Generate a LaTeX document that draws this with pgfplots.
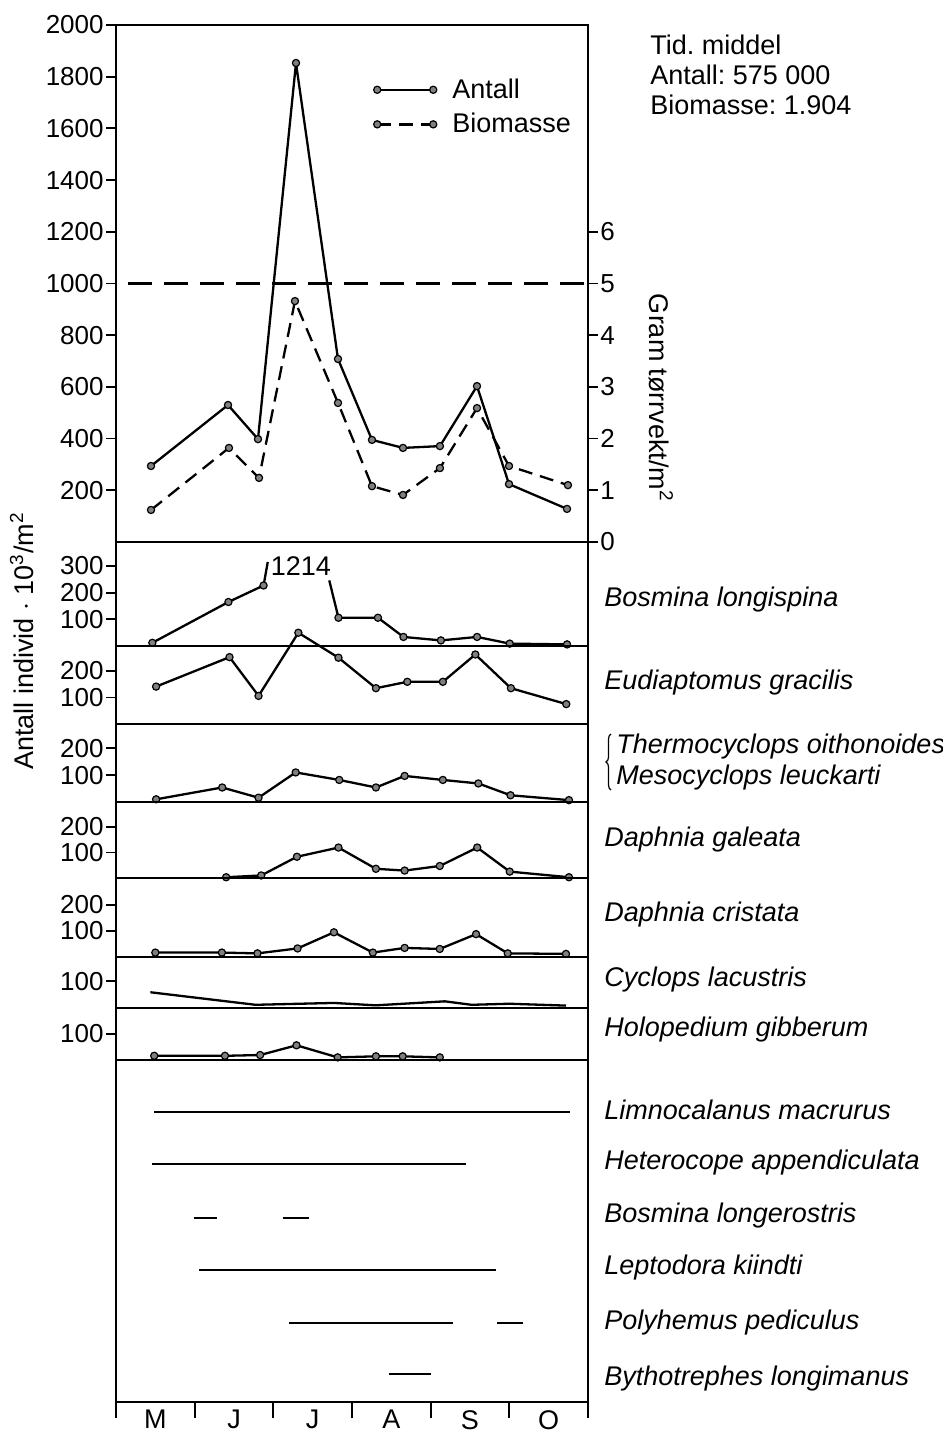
\documentclass[border=0pt]{standalone}
\usepackage{pgfplots}
\pgfplotsset{compat=1.18}
\usepackage{fontspec}
\setmainfont{Liberation Sans}
\usetikzlibrary{decorations.pathreplacing}
\frenchspacing

\newcommand\tf{\fontsize{13.5}{16}\selectfont}

\pgfplotsset{
  panel/.style={
    scale only axis, width=236pt, anchor=north west,
    xmin=0, xmax=6, ymin=0, xtick=\empty,
    axis line style={line width=1.2pt},
    tick style={line width=0.9pt, black},
    tick align=outside, major tick length=5pt,
    ytick pos=left, clip=false,
    /pgf/number format/assume math mode=true,
    /pgf/number format/1000 sep={},
    ticklabel style={font=\fontsize{13}{15}\selectfont, inner sep=1pt},
  },
  ser/.style={black, line width=1.15pt, line join=round, mark=*, mark size=1.8pt,
    mark options={fill=gray, draw=black, line width=0.6pt, solid}},
  bar/.style={black, line width=1.3pt, no marks},
}

\begin{document}
\begin{tikzpicture}
\useasboundingbox (0,0) rectangle (471pt,-716.5pt);

% top panel, Antall (10^3/m2)
\begin{axis}[panel, at={(58pt,-12.5pt)}, height=258.5pt,
  ymax=2000, ytick={200,400,...,2000}]
\addplot[ser] coordinates {
  (0.445,294) (1.424,530) (1.805,398) (2.288,1853) (2.822,708) (3.254,395)
  (3.648,364) (4.118,371) (4.589,603) (4.996,224) (5.733,128)};
\addplot[black, line width=1.1pt, no marks, dash pattern=on 12pt off 6pt]
  coordinates {(0.15,1000) (6,1000)};
\end{axis}

% top panel, Biomasse (g/m2) on the right axis
\begin{axis}[panel, at={(58pt,-12.5pt)}, height=258.5pt,
  ymax=10, ytick={0,...,6}, ytick pos=right, axis x line=none, axis y line*=right,
  legend style={draw=none, fill=none, at={(0.545,0.905)}, anchor=north west,
    font=\tf, row sep=2pt, inner sep=0pt},
  legend cell align=left,
  legend image code/.code={\draw[#1] plot coordinates {(0pt,0pt) (28pt,0pt)};
    \path (35pt,0pt);}]
\addlegendimage{ser}
\addlegendentry{Antall}
\addplot[ser, dash pattern=on 7pt off 4pt] coordinates {
  (0.445,0.62) (1.436,1.82) (1.818,1.24) (2.275,4.66) (2.822,2.69) (3.254,1.08)
  (3.648,0.91) (4.118,1.43) (4.589,2.59) (4.996,1.47) (5.745,1.10)};
\addlegendentry{Biomasse}
\end{axis}

% Bosmina longispina
\begin{axis}[panel, at={(58pt,-271pt)}, height=52pt, ymax=390, ytick={100,200,300}]
\addplot[ser, mark indices={1,2,3}] coordinates {
  (0.462,12) (1.429,165) (1.876,227) (1.929,315)};
\addplot[ser, mark indices={2,3,4,5,6,7,8}] coordinates {
  (2.711,246) (2.828,106) (3.330,106) (3.654,34) (4.130,21) (4.590,34) (5.005,9) (5.734,6)};
\node[font=\tf] at (axis cs:2.35,300) {1214};
\end{axis}

% Eudiaptomus gracilis
\begin{axis}[panel, at={(58pt,-323pt)}, height=39pt, ymax=294, ytick={100,200}]
\addplot[ser] coordinates {
  (0.510,141) (1.443,252) (1.812,106) (2.318,344) (2.828,250) (3.304,135)
  (3.703,159) (4.155,159) (4.568,262) (5.020,135) (5.724,75)};
\end{axis}

% Thermocyclops / Mesocyclops
\begin{axis}[panel, at={(58pt,-362pt)}, height=39pt, ymax=290, ytick={100,200}]
\addplot[ser] coordinates {
  (0.510,10) (1.350,54) (1.812,16) (2.284,110) (2.838,82) (3.304,54)
  (3.669,97) (4.155,82) (4.606,69) (5.015,25) (5.758,7)};
\end{axis}

% Daphnia galeata
\begin{axis}[panel, at={(58pt,-401pt)}, height=38pt, ymax=297, ytick={100,200}]
\addplot[ser] coordinates {
  (1.400,3) (1.846,10) (2.300,83) (2.828,119) (3.304,36) (3.669,29)
  (4.116,47) (4.592,119) (5.005,25) (5.758,3)};
\end{axis}

% Daphnia cristata
\begin{axis}[panel, at={(58pt,-439pt)}, height=39.5pt, ymax=304, ytick={100,200}]
\addplot[ser] coordinates {
  (0.500,17) (1.346,17) (1.798,14) (2.308,33) (2.770,95) (3.265,17)
  (3.669,35) (4.116,31) (4.577,88) (4.980,14) (5.720,12)};
\end{axis}

% Cyclops lacustris
\begin{axis}[panel, at={(58pt,-478.5pt)}, height=25.5pt, ymax=191, ytick={100}]
\addplot[black, line width=1.15pt, line join=round, no marks] coordinates {
  (0.437,59) (1.774,12) (2.770,19) (3.300,10) (4.180,25) (4.520,12) (5.000,16) (5.720,9)};
\end{axis}

% Holopedium gibberum
\begin{axis}[panel, at={(58pt,-504pt)}, height=26pt, ymax=198, ytick={100}]
\addplot[ser] coordinates {
  (0.486,16) (1.385,16) (1.832,19) (2.294,56) (2.818,10) (3.304,14) (3.644,14) (4.116,10)};
\end{axis}

% presence of the rarer species
\begin{axis}[panel, at={(58pt,-530pt)}, height=171pt, ymax=342, ytick=\empty,
  xtick={0,...,6}, xticklabels={}, xtick pos=bottom, major tick length=8pt,
  extra x ticks={0.5,1.5,2.5,3.5,4.5,5.5},
  extra x tick labels={M,J,J,A,S,O},
  extra x tick style={major tick length=0pt,
    ticklabel style={font=\tf, yshift=-3pt}}]
\addplot[bar] coordinates {(0.487,290) (5.770,290)};
\addplot[bar] coordinates {(0.453,238) (4.443,238)};
\addplot[bar] coordinates {(0.988,184) (1.280,184)};
\addplot[bar] coordinates {(2.117,184) (2.448,184)};
\addplot[bar] coordinates {(1.056,132) (4.832,132)};
\addplot[bar] coordinates {(2.200,79) (4.287,79)};
\addplot[bar] coordinates {(4.842,79) (5.168,79)};
\addplot[bar] coordinates {(3.465,28) (4.000,28)};
\end{axis}

% texts around the frame
\node[font=\tf, rotate=90] at (11pt,-320.5pt) {Antall individ $\cdot$ 10\textsuperscript{3}/m\textsuperscript{2}};
\node[font=\tf, rotate=-90] at (330.5pt,-199pt) {Gram tørrvekt/m\textsuperscript{2}};
\node[font=\tf, anchor=west, inner sep=0pt] at (325pt,-22.5pt) {Tid. middel};
\node[font=\tf, anchor=west, inner sep=0pt] at (325pt,-37.5pt) {Antall: 575 000};
\node[font=\tf, anchor=west, inner sep=0pt] at (325pt,-52.5pt) {Biomasse: 1.904};

\begin{scope}[every node/.style={font=\tf\itshape, anchor=west, inner sep=0pt}]
\node at (302pt,-300pt) {Bosmina longispina};
\node at (302pt,-341.5pt) {Eudiaptomus gracilis};
\node at (308pt,-373.5pt) {Thermocyclops oithonoides};
\node at (308pt,-389pt) {Mesocyclops leuckarti};
\node at (302pt,-420pt) {Daphnia galeata};
\node at (302pt,-457.5pt) {Daphnia cristata};
\node at (302pt,-490pt) {Cyclops lacustris};
\node at (302pt,-515pt) {Holopedium gibberum};
\node at (302pt,-555pt) {Limnocalanus macrurus};
\node at (302pt,-581.5pt) {Heterocope appendiculata};
\node at (302pt,-608pt) {Bosmina longerostris};
\node at (302pt,-634pt) {Leptodora kiindti};
\node at (302pt,-661.5pt) {Polyhemus pediculus};
\node at (302pt,-689.5pt) {Bythotrephes longimanus};
\end{scope}
\draw[line width=0.6pt, decorate, decoration={brace, amplitude=2.5pt}]
  (305.5pt,-395pt) -- (305.5pt,-367pt);
\end{tikzpicture}
\end{document}
